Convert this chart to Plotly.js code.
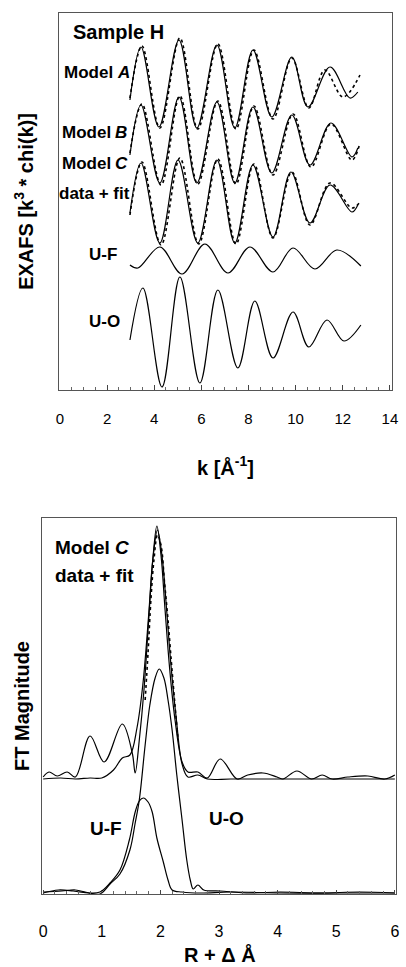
<!DOCTYPE html>
<html><head><meta charset="utf-8">
<script src="https://cdn.plot.ly/plotly-3.0.1.min.js"></script>
<style>html,body{margin:0;padding:0;background:#fff}#chart{width:406px;height:967px}</style>
</head><body><div id="chart"></div>
<script>
// ===== Top panel: EXAFS k^3*chi(k), curves stacked with vertical offsets (arb. units) =====
const kAfit   = [2.97,3.44,4.20,5.05,5.81,6.66,7.42,8.19,8.99,9.84,10.52,11.46,12.30,12.64];
const chiAfit = [29.0,34.3,26.3,35.0,26.2,34.5,26.2,34.0,27.3,33.3,28.3,32.3,29.2,29.8];
const kAdat   = [2.97,3.48,4.24,5.09,5.85,6.70,7.47,8.23,9.04,9.84,10.56,11.24,12.01,12.73];
const chiAdat = [29.2,34.4,26.2,35.2,26.1,34.6,26.1,34.0,27.1,33.2,28.2,32.0,29.3,31.5];

const kBfit   = [2.97,3.44,4.24,5.05,5.81,6.66,7.42,8.19,8.99,9.84,10.61,11.50,12.39,12.64];
const chiBfit = [23.5,28.5,20.7,29.3,20.7,28.8,20.7,28.3,21.7,27.5,22.5,26.7,23.3,24.2];
const kBdat   = [2.97,3.48,4.29,5.09,5.85,6.70,7.47,8.23,9.04,9.89,10.65,11.50,12.39,12.73];
const chiBdat = [23.7,28.6,20.5,29.4,20.6,28.9,20.6,28.4,21.5,27.6,22.3,26.6,23.0,24.7];

const kCfit   = [2.97,3.44,4.24,5.01,5.85,6.66,7.42,8.19,9.04,9.80,10.61,11.46,12.39,12.64];
const chiCfit = [17.7,22.7,14.7,23.0,14.7,23.0,14.7,22.5,15.3,21.8,16.7,20.5,17.8,18.5];
const kCdat   = [2.97,3.48,4.29,5.09,5.89,6.70,7.47,8.23,9.04,9.84,10.61,11.46,12.39,12.73];
const chiCdat = [17.5,22.8,14.5,23.2,14.6,23.1,14.6,22.6,15.2,21.8,16.5,20.7,18.2,18.8];

const kUF   = [2.97,3.31,4.24,5.18,6.15,7.13,8.06,9.04,9.89,10.82,11.75,12.77];
const chiUF = [12.5,12.2,14.3,11.6,14.6,11.7,14.3,11.8,14.2,12.1,14.0,12.4];

const kUO   = [2.97,3.52,4.33,5.09,5.94,6.70,7.55,8.27,9.04,9.89,10.56,11.33,12.05,12.77];
const chiUO = [5.0,10.2,0.3,11.3,0.7,10.0,2.2,8.9,3.2,7.8,4.3,7.0,4.9,6.5];

const kTickVals = [0,2,4,6,8,10,12,14];
const kTickText = ['0','2','4','6','8','10','12','14'];

// ===== Bottom panel: FT magnitude vs R + delta (arb. units, Model C offset above components) =====
const rCdat  = [0.00,0.10,0.24,0.41,0.55,0.80,1.04,1.35,1.52,1.57,1.64,1.72,1.80,1.87,1.94,2.01,2.08,2.16,2.25,2.37,2.47,2.64,2.80,3.02,3.31,3.49,3.75,3.99,4.09,4.33,4.58,4.76,4.93,5.20,5.54,5.83,6.00];
const ftCdat = [11.7,12.2,11.8,12.2,11.7,15.8,13.2,17.0,14.1,12.1,15.4,20.4,27.4,33.4,36.8,33.9,28.4,22.4,17.4,13.2,12.2,12.2,11.6,13.5,11.5,11.9,12.1,11.7,11.5,12.3,11.5,11.9,11.5,11.7,11.8,11.5,11.9];
const rCfit  = [0.00,0.30,0.55,0.80,1.00,1.20,1.35,1.48,1.60,1.70,1.80,1.87,1.95,2.03,2.10,2.18,2.27,2.37,2.47,2.64,2.80,3.20,4.00,5.00,6.00];
const ftCfit = [11.5,11.6,11.5,11.6,11.6,12.4,13.6,13.9,16.6,20.9,27.9,33.4,36.4,33.7,28.9,22.9,17.6,13.0,11.7,11.9,11.5,11.5,11.5,11.5,11.5];
const rCpts  = [1.74,1.79,1.84,1.89,1.95,2.01,2.07,2.13,2.19,2.25,2.30];
const ftCpts = [19.4,24.2,29.6,33.4,35.9,34.9,31.2,27.4,23.0,18.8,15.6];

const rUO  = [0.00,0.26,0.51,0.77,0.97,1.14,1.31,1.48,1.57,1.64,1.74,1.82,1.91,1.98,2.06,2.13,2.20,2.28,2.37,2.45,2.51,2.56,2.64,2.74,3.02,3.53,4.04,4.72,5.40,6.00];
const ftUO = [0.1,0.4,0.3,0.1,0.0,1.0,2.0,4.4,7.1,9.4,14.9,18.9,21.6,22.5,21.6,19.4,16.4,11.9,7.4,3.4,1.4,0.5,0.9,0.4,0.3,0.1,0.2,0.1,0.2,0.1];
const rUF  = [0.00,0.32,0.55,0.80,0.97,1.14,1.31,1.47,1.57,1.64,1.71,1.79,1.86,1.94,2.05,2.13,2.20,2.37,2.68,3.19,4.04,5.06,6.00];
const ftUF = [0.2,0.3,0.4,0.1,0.2,1.1,2.4,5.4,8.2,9.3,9.6,9.2,8.2,5.6,3.2,1.4,0.4,0.2,0.1,0.2,0.1,0.1,0.1];

const rTickVals = [0,1,2,3,4,5,6];
const rTickText = ['0','1','2','3','4','5','6'];

const modelWord = 'Model';
const modelLetters = ['A', 'B', 'C'];
const labelsTop = ['Sample H', 'data + fit', 'U-F', 'U-O'];
const labelsBot = ['data + fit', 'U-F', 'U-O'];

// ===== Build traces =====
function solid(x, y, xa, ya, w) {
  return {x, y, xaxis: xa, yaxis: ya, type: 'scatter', mode: 'lines',
          line: {color: '#000', width: w || 1.2, shape: 'spline', smoothing: 1}, hoverinfo: 'skip'};
}
function dotted(x, y, xa, ya) {
  return {x, y, xaxis: xa, yaxis: ya, type: 'scatter', mode: 'lines',
          line: {color: '#000', width: 1.6, dash: 'dot', shape: 'spline', smoothing: 1}, hoverinfo: 'skip'};
}
const traces = [
  dotted(kAdat, chiAdat, 'x', 'y'), solid(kAfit, chiAfit, 'x', 'y'),
  dotted(kBdat, chiBdat, 'x', 'y'), solid(kBfit, chiBfit, 'x', 'y'),
  dotted(kCdat, chiCdat, 'x', 'y'), solid(kCfit, chiCfit, 'x', 'y'),
  solid(kUF, chiUF, 'x', 'y'), solid(kUO, chiUO, 'x', 'y'),
  solid(rCdat, ftCdat, 'x2', 'y2'), solid(rCfit, ftCfit, 'x2', 'y2'),
  dotted(rCpts, ftCpts, 'x2', 'y2'),
  solid(rUO, ftUO, 'x2', 'y2'), solid(rUF, ftUF, 'x2', 'y2')
];

const W = 406, H = 967;
const px = v => v / W, py = v => 1 - v / H;
const FONT = 'Arial, "Liberation Sans", sans-serif';
const titleFont = {family: FONT, size: 20, color: '#000', weight: 'bold'};

function ann(text, x, y, size, xanchor, extra, italic) {
  return Object.assign({text, xref: 'paper', yref: 'paper', x: px(x), y: py(y), showarrow: false,
    xanchor: xanchor || 'left', yanchor: 'middle',
    font: {family: FONT, size: size, color: '#000', weight: 'bold', style: italic ? 'italic' : 'normal'}}, extra || {});
}

const annotations = [
  ann(labelsTop[0], 71, 32, 20),
  ann(modelWord, 62, 73, 17), ann(modelLetters[0], 115, 73, 17, 'left', null, true),
  ann(modelWord, 60, 133, 17), ann(modelLetters[1], 113, 133, 17, 'left', null, true),
  ann(modelWord, 60, 163, 17), ann(modelLetters[2], 113, 163, 17, 'left', null, true),
  ann(labelsTop[1], 57, 193, 17),
  ann(labelsTop[2], 87, 254, 17),
  ann(labelsTop[3], 87, 321, 17),
  ann(modelWord, 53, 547, 19), ann(modelLetters[2], 113, 547, 19, 'left', null, true),
  ann(labelsBot[0], 53, 575, 19),
  ann(labelsBot[1], 88, 828, 19),
  ann(labelsBot[2], 207, 818, 19),
  // bottom x-axis title (placed directly so it is not clipped at the page edge)
  ann('R + Δ Å', 220, 954, 20, 'center')
];

const axCommon = {showgrid: false, zeroline: false, showline: true, mirror: true, linecolor: '#555', linewidth: 1, automargin: false};
const layout = {
  width: W, height: H, margin: {l: 0, r: 0, t: 0, b: 0}, showlegend: false,
  paper_bgcolor: '#fff', plot_bgcolor: '#fff',
  font: {family: FONT, color: '#000'},
  xaxis: Object.assign({}, axCommon, {
    domain: [px(59), px(392)], anchor: 'y', range: [-0.04, 14.09],
    tickmode: 'array', tickvals: kTickVals, ticktext: kTickText, tickfont: {size: 15, family: FONT},
    ticks: 'inside', ticklen: 5, tickcolor: '#444', ticklabelstandoff: 15,
    minor: {ticks: 'inside', tickmode: 'linear', tick0: 0, dtick: 0.5, ticklen: 3, tickcolor: '#666'},
    title: {text: 'k [Å<sup>-1</sup>]', font: titleFont, standoff: 34}
  }),
  yaxis: Object.assign({}, axCommon, {
    domain: [py(390), py(13)], anchor: 'x', range: [0, 37.7], showticklabels: false, ticks: '',
    title: {text: 'EXAFS [k<sup>3</sup> * chi(k)]', font: titleFont, standoff: 19}
  }),
  xaxis2: Object.assign({}, axCommon, {
    domain: [px(42), px(396)], anchor: 'y2', range: [-0.02, 6.02],
    tickmode: 'array', tickvals: rTickVals, ticktext: rTickText, tickfont: {size: 16, family: FONT},
    ticks: 'inside', ticklen: 4, tickcolor: '#444', ticklabelstandoff: 23,
    minor: {ticks: 'inside', tickmode: 'linear', tick0: 0, dtick: 0.2, ticklen: 3, tickcolor: '#666'}
  }),
  yaxis2: Object.assign({}, axCommon, {
    domain: [py(894), py(518)], anchor: 'x2', range: [0, 37.6], showticklabels: false, ticks: '',
    title: {text: 'FT Magnitude', font: titleFont, standoff: 6}
  }),
  annotations
};

Plotly.newPlot('chart', traces, layout, {staticPlot: true, displayModeBar: false});
</script>
</body></html>
